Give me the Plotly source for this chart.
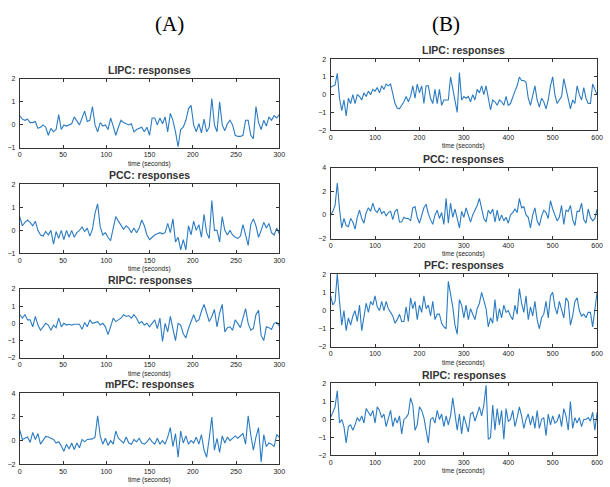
import plotly.graph_objects as go

W, H = 610, 487

# ---------------- data ----------------
TIME_A = list(range(0, 301, 3))
TIME_B = list(range(0, 601, 5))
TICKS_A = [0, 50, 100, 150, 200, 250, 300]
TICKS_B = [0, 100, 200, 300, 400, 500, 600]

A_LIPC = [0.4, 0.25, 0.2, 0.25, 0.1, 0.1, 0.15, -0.15, -0.1, 0.0,
          -0.1, -0.45, -0.15, -0.3, -0.2, 0.45, -0.2, 0.0, -0.05, 0.0,
          0.05, 0.35, 0.2, 0.0, 0.3, 0.6, 0.15, 0.2, 0.8, 0.0,
          -0.3, 0.1, -0.05, 0.0, -0.2, 0.3, -0.05, -0.45, -0.1, 0.2,
          0.1, 0.05, 0.0, 0.05, -0.3, -0.2, -0.15, -0.1, -0.3, -0.1,
          -0.45, 0.3, 0.3, 0.0, 0.3, 0.05, 0.35, -0.3, 0.5, 0.2,
          -0.3, -0.95, -0.2, -0.1, 0.2, 0.7, 0.85, 0.0, -0.3, 0.05,
          -0.35, 0.25, -0.3, -0.1, 1.15, 0.0, -0.3, 1.0, 0.0, -0.25,
          0.05, 0.2, 0.0, -0.45, -0.5, -0.5, -0.45, 0.2, 0.2, -0.45,
          -0.6, 0.8, 0.1, -0.2, 0.2, -0.05, 0.35, 0.2, 0.4, 0.3,
          0.45]
A_PCC = [0.6, 0.2, 0.35, 0.45, 0.35, 0.2, 0.4, 0.0, -0.2, -0.25,
         -0.05, -0.2, 0.0, -0.6, -0.05, -0.35, 0.0, -0.4, 0.0, -0.3,
         0.0, -0.3, -0.1, 0.0, 0.15, -0.05, 0.1, -0.25, 0.05, 0.75,
         1.15, 0.15, -0.2, -0.1, -0.3, -0.45, 0.1, 0.6, 0.4, 0.2,
         0.05, 0.2, 0.1, -0.1, 0.1, -0.1, 0.1, 0.45, 0.2, -0.2,
         -0.4, -0.3, -0.2, -0.15, -0.1, -0.15, -0.1, 0.3, -0.1, 0.5,
         -0.5, -0.3, -0.85, -0.4, -0.85, 0.2, -0.2, 0.4, 0.0, 0.25,
         -0.3, 0.7, -0.1, -0.35, 1.3, 0.0, 0.0, -0.5, 0.6, 0.0,
         -0.2, 0.0, -0.2, -0.3, -0.35, -0.25, 0.25, -0.2, -0.65, 0.25,
         0.5, 0.2, -0.3, 0.0, 0.35, 0.1, 0.3, -0.1, -0.2, 0.1,
         -0.15]
A_RIPC = [0.5, 0.3, 0.5, 0.2, 0.2, -0.2, 0.4, -0.1, -0.4, -0.2,
          0.0, -0.1, -0.4, -0.1, -0.25, 0.3, -0.2, 0.0, -0.1, -0.05,
          -0.1, -0.05, -0.05, -0.05, -0.35, 0.05, -0.2, 0.2, 0.0, 0.05,
          0.1, -0.1, 0.0, -0.2, -0.65, -0.2, 0.3, 0.1, 0.2, 0.3,
          0.5, 0.4, 0.45, 0.3, 0.5, 0.3, 0.0, 0.1, -0.1, 0.0,
          -0.2, 0.0, 0.2, -0.3, 0.3, -1.05, 0.0, -0.5, 0.4, -0.3,
          -1.0, 0.0, -0.1, -0.6, -0.85, -0.3, 0.1, 0.5, 0.1, 0.2,
          0.7, 1.1, 0.6, 0.1, 0.4, 0.8, -0.2, 0.6, 1.1, -0.5,
          -0.25, -0.2, -0.4, 0.2, 0.0, -0.25, 0.3, 0.85, 0.0, -0.4,
          -0.3, 0.5, 0.75, -0.7, -1.0, -0.2, -0.25, -0.35, 0.0, 0.05,
          -0.15]
A_MPFC = [0.9, 0.1, 0.2, 0.3, -0.15, 0.7, 0.1, 0.6, -0.3, 0.0,
          0.35, 0.3, 0.2, 0.1, -0.2, -0.1, -0.45, -0.9, -0.3, -0.7,
          -0.2, -0.75, -0.2, -0.6, 0.1, -0.1, 0.1, 0.1, 0.15, 0.3,
          2.1, 0.4, -0.3, 0.2, -0.4, 0.0, -0.3, 0.8, 0.2, 0.0,
          -0.2, 0.3, -0.2, -0.3, 0.1, -0.1, 0.2, -0.2, -0.3, -0.1,
          0.2, -0.1, -0.3, 0.2, -0.3, 0.0, -0.3, 0.3, 1.1, -0.5,
          0.6, -1.4, 0.8, -0.2, 0.4, -0.3, 0.0, -0.2, 0.3, -0.3,
          0.5, -0.8, -1.4, 0.2, 2.0, -0.8, 0.2, -1.0, 0.4, -0.2,
          0.3, 0.0, 0.2, 0.4, 0.2, 0.4, 0.6, -0.3, 2.1, 0.5,
          -0.8, 0.3, 1.1, -1.8, 0.5, -0.5, -0.2, -0.3, -0.5, 0.5,
          0.3]

B_LIPC = [0.42, 0.5, 0.55, 1.2, -0.2, -0.9, -0.3, -1.2, -0.2, -0.5,
          0.0, -0.5, 0.0, -0.1, -0.3, 0.1, -0.1, 0.2, 0.0, 0.3,
          0.2, 0.4, 0.1, 0.5, 0.3, 0.6, 0.5, 0.6, 0.0, -0.5,
          -0.75, -0.8, -0.6, -0.4, -0.1, -0.4, -0.1, 0.5, -0.2, 0.6,
          0.1, 0.5, -0.5, 0.5, 0.5, -0.2, -0.5, 0.3, -0.5, 0.3,
          -0.6, -0.3, -0.3, -0.3, 1.0, 0.3, -0.2, -1.0, 1.25, -0.3,
          -0.1, -0.2, -0.1, -0.4, 0.0, -0.3, 0.3, 0.1, 0.5, 0.0,
          0.5, -0.2, -0.85, -0.3, -0.4, -0.6, -0.3, -0.4, -0.6, -0.1,
          -0.6, -0.5, -0.1, 0.2, 0.5, 1.0, 0.8, 0.8, 0.7, -0.2,
          -0.6, 0.0, 0.5, -0.3, -0.7, -0.2, -0.4, -0.8, -0.3, 0.5,
          1.0, 0.0, -0.5, -0.3, -0.1, 0.9, 0.3, -0.2, -0.8, -0.3,
          -0.5, 0.5, 0.0, -0.3, 0.4, -0.2, -0.5, -0.5, 0.6, 0.3,
          0.0]
B_PCC = [0.0, 0.3, 0.8, 2.7, 0.5, -1.1, -0.3, -0.9, -1.0, -0.3,
         -0.6, -1.2, -0.2, 0.4, -0.3, -0.7, 0.2, 0.6, 0.3, 1.0,
         0.4, 0.2, 0.6, 0.1, 0.3, -0.1, 0.2, 0.3, -0.4, 0.3,
         0.5, -0.6, -0.6, -0.2, -0.3, -0.3, -0.5, 0.6, 0.7, -0.2,
         -0.7, 0.0, 0.6, 0.9, 0.1, -0.4, -0.8, 0.0, 0.4, -0.3,
         0.2, -0.8, 1.4, -0.7, 1.0, -0.2, 0.5, -0.3, -1.1, 0.3,
         -0.2, 0.6, -0.1, -0.6, 0.0, 0.4, 0.8, 1.4, 0.6, -0.3,
         -0.6, 0.4, 0.1, 0.5, -0.6, 0.4, -0.5, 0.0, -0.5, -0.2,
         -0.7, 0.0, 0.2, 0.5, 0.2, 1.4, 0.6, 0.7, 0.0, -0.2,
         -1.1, 0.0, 0.6, -0.5, -0.9, -0.1, 0.4, 0.2, -0.3, 1.2,
         0.5, -0.1, -0.5, -0.2, 0.8, -0.8, 0.4, 0.3, 0.8, -0.4,
         -0.9, 0.3, 0.3, 1.0, -0.4, -0.7, 0.5, -0.2, -0.5, -0.3,
         0.5]
B_PFC = [0.8, 0.3, 0.5, 2.0, 0.5, -0.8, 0.0, -1.1, -0.4, -0.8,
         -0.3, 0.0, -0.6, 0.3, -1.1, -0.4, 0.4, -0.1, 0.5, 0.3,
         0.8, 0.2, 0.0, 0.5, 0.0, 0.5, 0.1, -0.1, -0.3, -0.7,
         -0.5, -0.2, -0.6, -0.6, 0.2, -0.6, 0.7, 0.1, 0.5, -0.5,
         0.3, -0.1, 0.8, 0.1, 0.3, -0.3, 0.5, -0.5, -0.2, -0.2,
         -0.7, -0.9, -1.0, 1.6, 1.0, 0.2, -0.8, -1.3, 0.6, 0.3,
         -0.4, 0.3, -0.5, 0.1, -0.2, -0.5, 0.1, 0.4, 1.0, 0.5,
         0.1, -0.9, -0.4, -0.7, 0.6, -0.6, 0.1, -0.4, 0.3, -0.1,
         0.0, -0.3, -0.5, 0.3, -0.2, 1.2, 0.4, -0.1, 0.8, -0.5,
         0.2, -0.3, 0.5, -0.5, -1.0, -0.4, -0.2, 0.5, -0.4, 0.8,
         1.0, 0.2, -0.2, 0.5, 0.0, -0.4, 0.7, 0.5, -0.8, -0.3,
         0.5, 0.7, 0.0, -0.3, -0.2, -0.4, -0.1, -0.1, -0.9, 0.0,
         1.0]
B_RIPC = [0.1, 0.4, 0.7, 1.6, -0.2, 0.0, -0.4, -1.3, -0.4, -0.3,
          -0.6, -0.3, 0.1, -0.1, 0.2, -0.2, 0.6, 0.4, 0.2, 0.5,
          -0.2, 0.7, 0.5, 0.1, 0.3, -0.4, 0.0, 0.5, -0.4, 0.1,
          -0.2, 0.2, -0.8, 0.0, 0.1, 0.3, 1.2, 0.8, -0.6, -0.3,
          0.7, 0.5, 0.1, -0.5, -1.3, 0.0, 0.1, -0.2, 0.5, 0.0,
          0.3, -0.4, 0.2, -0.3, 0.2, 1.2, 0.3, -0.6, 0.3, -0.8,
          0.2, -0.3, -0.7, 0.3, 0.4, -0.1, 0.3, 0.7, 0.2, 0.8,
          1.9, -1.1, -1.0, 0.8, -0.6, 0.6, -0.3, 0.5, -1.1, 0.6,
          -0.1, 0.0, 0.5, -0.4, 0.1, 0.7, 0.2, -0.5, 0.0, 0.3,
          -0.3, 0.2, -0.5, 0.5, -0.5, 0.0, 0.1, -0.9, 0.3, -0.3,
          0.2, -0.2, -0.1, 0.3, -0.4, 0.6, 0.2, -0.6, 1.0, -0.5,
          0.1, -0.2, 0.1, -0.4, 0.0, 0.0, 0.1, -0.1, 0.4, -0.6,
          0.4]

# panels: (title, time, values, x range, x ticks, y range, y ticks, box px left,right,top,bottom)
PANELS = [
    ("LIPC: responses", TIME_A, A_LIPC, [0, 300], TICKS_A, [-1, 2], [-1, 0, 1, 2], (18, 281, 76, 146)),
    ("PCC: responses", TIME_A, A_PCC, [0, 300], TICKS_A, [-1, 2], [-1, 0, 1, 2], (18, 281, 183, 253)),
    ("RIPC: responses", TIME_A, A_RIPC, [0, 300], TICKS_A, [-2, 2], [-2, -1, 0, 1, 2], (18, 281, 289, 359)),
    ("mPFC: responses", TIME_A, A_MPFC, [0, 300], TICKS_A, [-2, 4], [-2, 0, 2, 4], (18, 281, 395, 467)),
    ("LIPC: responses", TIME_B, B_LIPC, [0, 600], TICKS_B, [-2, 2], [-2, -1, 0, 1, 2], (333, 603, 56, 128)),
    ("PCC: responses", TIME_B, B_PCC, [0, 600], TICKS_B, [-2, 4], [-2, 0, 2, 4], (333, 603, 166, 238)),
    ("PFC: responses", TIME_B, B_PFC, [0, 600], TICKS_B, [-2, 2], [-2, -1, 0, 1, 2], (333, 603, 274, 348)),
    ("RIPC: responses", TIME_B, B_RIPC, [0, 600], TICKS_B, [-2, 2], [-2, -1, 0, 1, 2], (333, 603, 385, 458)),
]

LINE_COLOR = "#2b7bc2"
AX_COLOR = "#333333"
FONT = "Liberation Sans, Arial, sans-serif"

fig = go.Figure()
layout = dict(
    width=W, height=H,
    margin=dict(l=0, r=0, t=0, b=0),
    paper_bgcolor="white", plot_bgcolor="white",
    showlegend=False,
    annotations=[],
)

for i, (title, t, v, xr, xt, yr, yt, box) in enumerate(PANELS):
    n = "" if i == 0 else str(i + 1)
    left, right, top, bottom = box
    fig.add_trace(go.Scatter(x=t, y=v, mode="lines",
                             line=dict(color=LINE_COLOR, width=1.1),
                             xaxis="x" + n, yaxis="y" + n, hoverinfo="skip"))
    common = dict(showline=True, linecolor=AX_COLOR, linewidth=1, mirror="allticks",
                  ticks="inside", ticklen=3, tickcolor=AX_COLOR, tickwidth=1,
                  showgrid=False, zeroline=False,
                  tickfont=dict(family=FONT, size=7, color="#222"))
    layout["xaxis" + n] = dict(common, domain=[left / W, right / W], range=xr,
                               tickvals=xt, anchor="y" + n, ticklabelstandoff=0)
    layout["yaxis" + n] = dict(common, domain=[1 - bottom / H, 1 - top / H], range=yr,
                               tickvals=yt, anchor="x" + n, ticklabelstandoff=2)
    cx = (left + right) / 2 / W
    layout["annotations"].append(dict(
        text="<b>" + title + "</b>", x=cx, y=1 - (top - 9) / H, xref="paper", yref="paper",
        showarrow=False, xanchor="center", yanchor="middle",
        font=dict(family=FONT, size=10.5, color="#333")))
    layout["annotations"].append(dict(
        text="time (seconds)", x=cx, y=1 - (bottom + 16) / H, xref="paper", yref="paper",
        showarrow=False, xanchor="center", yanchor="middle",
        font=dict(family=FONT, size=6.5, color="#222")))

for lab, px in (("(A)", 170), ("(B)", 450)):
    layout["annotations"].append(dict(
        text=lab, x=px / W, y=1 - 20 / H, xref="paper", yref="paper",
        showarrow=False, xanchor="center", yanchor="middle",
        font=dict(family="Liberation Serif, Times New Roman, serif", size=21, color="black")))

fig.update_layout(**layout)
fig.write_html("out.html")
